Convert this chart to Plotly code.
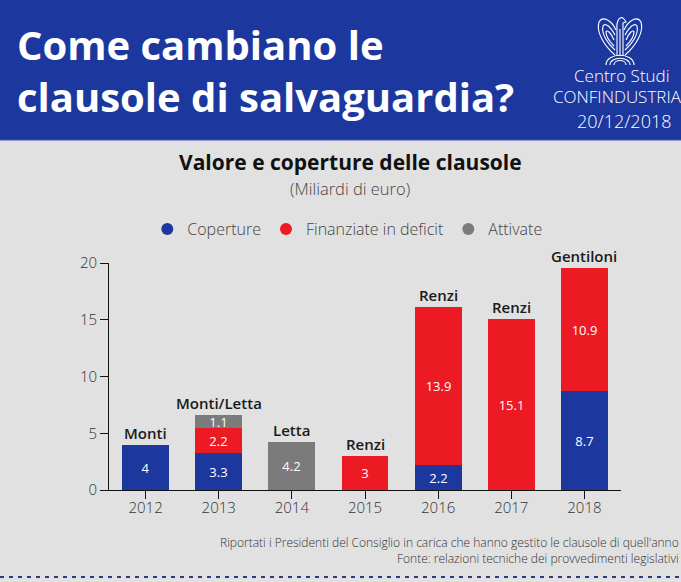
import plotly.graph_objects as go

W, H = 681, 582

years = ["2012", "2013", "2014", "2015", "2016", "2017", "2018"]
coperture = [4, 3.3, None, None, 2.2, None, 8.7]
finanziate = [None, 2.2, None, 3, 13.9, 15.1, 10.9]
attivate = [None, 1.1, 4.2, None, None, None, None]
presidenti = ["Monti", "Monti/Letta", "Letta", "Renzi", "Renzi", "Renzi", "Gentiloni"]
y_ticks = [0, 5, 10, 15, 20]

BLUE = "#1c389f"
RED = "#ec1a23"
GREY = "#7b7b7b"
BG = "#e1e1e1"
FONT = "Open Sans"

def px_x(x):
    return x / W

def px_y(y):
    return 1 - y / H

fig = go.Figure()

def add_series(name, vals, color):
    fig.add_trace(go.Bar(
        name=name, x=years, y=vals,
        marker=dict(color=color, line=dict(width=0)),
        width=0.64,
        text=[("" if v is None else f"{v:g}") for v in vals],
        textposition="inside", insidetextanchor="middle",
        textfont=dict(color="white", size=13, family=FONT),
        constraintext="none",
        hoverinfo="skip", showlegend=False,
    ))
    fig.add_trace(go.Scatter(
        name=name, x=[None], y=[None], mode="markers",
        marker=dict(color=color, size=12, symbol="circle"),
        showlegend=True, hoverinfo="skip",
    ))

add_series("Coperture", coperture, BLUE)
add_series("Finanziate in deficit", finanziate, RED)
add_series("Attivate", attivate, GREY)

totals = []
for i in range(len(years)):
    t = sum(v for v in (coperture[i], finanziate[i], attivate[i]) if v is not None)
    totals.append(t)

for i, name in enumerate(presidenti):
    fig.add_annotation(x=i, y=totals[i], text=name, showarrow=False,
                       yanchor="bottom", yshift=0, xref="x", yref="y",
                       font=dict(size=15, color="#1a1a1a", family=FONT, weight=600))

fig.update_layout(
    template="none",
    width=W, height=H,
    margin=dict(l=0, r=0, t=0, b=0, pad=0, autoexpand=False),
    paper_bgcolor=BG, plot_bgcolor=BG,
    barmode="stack",
    bargap=0,
    uniformtext=dict(minsize=12, mode="show"),
    showlegend=True,
    legend=dict(orientation="h", x=0.51, xanchor="center", y=px_y(229), yanchor="middle",
                font=dict(size=16, color="#444444", family=FONT, weight=300), itemwidth=30,
                bgcolor="rgba(0,0,0,0)", traceorder="normal"),
    xaxis=dict(domain=[px_x(109), px_x(621)], range=[-0.5, 6.5], type="category", automargin=False,
               showline=True, linecolor="#111111", linewidth=1,
               ticks="outside", ticklen=8, tickcolor="#111111", ticklabelstandoff=-4,
               tickfont=dict(size=15, color="#333333", family=FONT, weight=300), showgrid=False, fixedrange=True),
    yaxis=dict(domain=[px_y(490), px_y(263)], range=[0, 20], tickvals=y_ticks, automargin=False,
               showline=True, linecolor="#111111", linewidth=1,
               ticks="outside", ticklen=8, tickcolor="#111111",
               tickfont=dict(size=15, color="#333333", family=FONT, weight=300), showgrid=False, zeroline=False),
    font=dict(family=FONT),
)

# Header band
fig.add_shape(type="rect", xref="paper", yref="paper", x0=0, x1=1, y0=px_y(140), y1=1,
              fillcolor=BLUE, line=dict(width=0), layer="below")
fig.add_shape(type="line", xref="paper", yref="paper", x0=0, x1=1, y0=px_y(140), y1=px_y(140),
              line=dict(color="#3a55b5", width=1))

fig.add_annotation(xref="paper", yref="paper", x=px_x(15), y=px_y(70), xanchor="left", yanchor="middle",
                   text="<b>Come cambiano le<br>clausole di salvaguardia?</b>", showarrow=False, align="left",
                   font=dict(size=40, color="white", family=FONT))

# Logo (decorative outline)
def P(*pts):
    out = []
    for p in pts:
        if isinstance(p, str):
            out.append(p)
        else:
            out.append(f"{px_x(p[0]):.5f},{px_y(p[1]):.5f}")
    return " ".join(out)

logo_paths = [
    P("M", (617, 29), "C", (616, 20), (621, 15), (624, 19), "L", (626, 22), "L", (623, 23), "L", (623, 29)),
    P("M", (616, 30), "C", (612, 21), (603, 15), (599, 22), "C", (596, 32), (604, 46), (615, 55)),
    P("M", (615, 35), "C", (611, 27), (605, 22), (603, 26), "C", (601, 34), (608, 44), (615, 50)),
    P("M", (614, 40), "C", (611, 33), (607, 29), (606, 32), "C", (606, 37), (610, 42), (614, 46)),
    P("M", (624, 30), "C", (628, 21), (637, 15), (641, 22), "C", (644, 32), (636, 46), (625, 55)),
    P("M", (625, 35), "C", (629, 27), (635, 22), (637, 26), "C", (639, 34), (632, 44), (625, 50)),
    P("M", (626, 40), "C", (629, 33), (633, 29), (634, 32), "C", (634, 37), (630, 42), (626, 46)),
    P("M", (617, 29), "L", (617, 56)),
    P("M", (620, 29), "L", (620, 56)),
    P("M", (623, 29), "L", (623, 56)),
    P("M", (606, 65), "C", (606, 52), (634, 52), (634, 65)),
    P("M", (610, 65), "C", (610, 56), (630, 56), (630, 65)),
    P("M", (614, 65), "C", (614, 59), (626, 59), (626, 65)),
]
for p in logo_paths:
    fig.add_shape(type="path", xref="paper", yref="paper", path=p,
                  line=dict(color="white", width=1.1))

fig.add_annotation(xref="paper", yref="paper", x=px_x(622), y=px_y(76), xanchor="center", yanchor="middle",
                   text="Centro Studi", showarrow=False, font=dict(size=17, color="white", family=FONT, weight=300))
fig.add_annotation(xref="paper", yref="paper", x=px_x(551), y=px_y(97), xanchor="left", yanchor="middle",
                   text="CONFINDUSTRIA", showarrow=False, font=dict(size=17, color="white", family=FONT, weight=300))
fig.add_annotation(xref="paper", yref="paper", x=px_x(624), y=px_y(121), xanchor="center", yanchor="middle",
                   text="20/12/2018", showarrow=False, font=dict(size=18, color="white", family=FONT, weight=300))

# Chart title
fig.add_annotation(xref="paper", yref="paper", x=px_x(350), y=px_y(162), xanchor="center", yanchor="middle",
                   text="<b>Valore e coperture delle clausole</b>", showarrow=False, borderpad=0,
                   font=dict(size=21, color="#111111", family=FONT))
fig.add_annotation(xref="paper", yref="paper", x=px_x(350), y=px_y(189), xanchor="center", yanchor="middle",
                   text="(Miliardi di euro)", showarrow=False, borderpad=0,
                   font=dict(size=16.5, color="#444444", family=FONT, weight=300))

# Footnotes
fig.add_annotation(xref="paper", yref="paper", x=px_x(680), y=px_y(550), xanchor="right", yanchor="middle",
                   text="Riportati i Presidenti del Consiglio in carica che hanno gestito le clausole di quell'anno<br>"
                        "Fonte: relazioni tecniche dei provvedimenti legislativi",
                   showarrow=False, align="right", borderpad=0,
                   font=dict(size=12, color="#333333", family=FONT, weight=300))

# Dotted bottom line
fig.add_shape(type="line", xref="paper", yref="paper", x0=0, x1=1, y0=px_y(577), y1=px_y(577),
              line=dict(color="#2a3a8a", width=2, dash="4px,5px"))

fig.write_html("out.html", config={"displayModeBar": False},
               post_script="document.body.style.margin='0';document.body.style.overflow='hidden';")
